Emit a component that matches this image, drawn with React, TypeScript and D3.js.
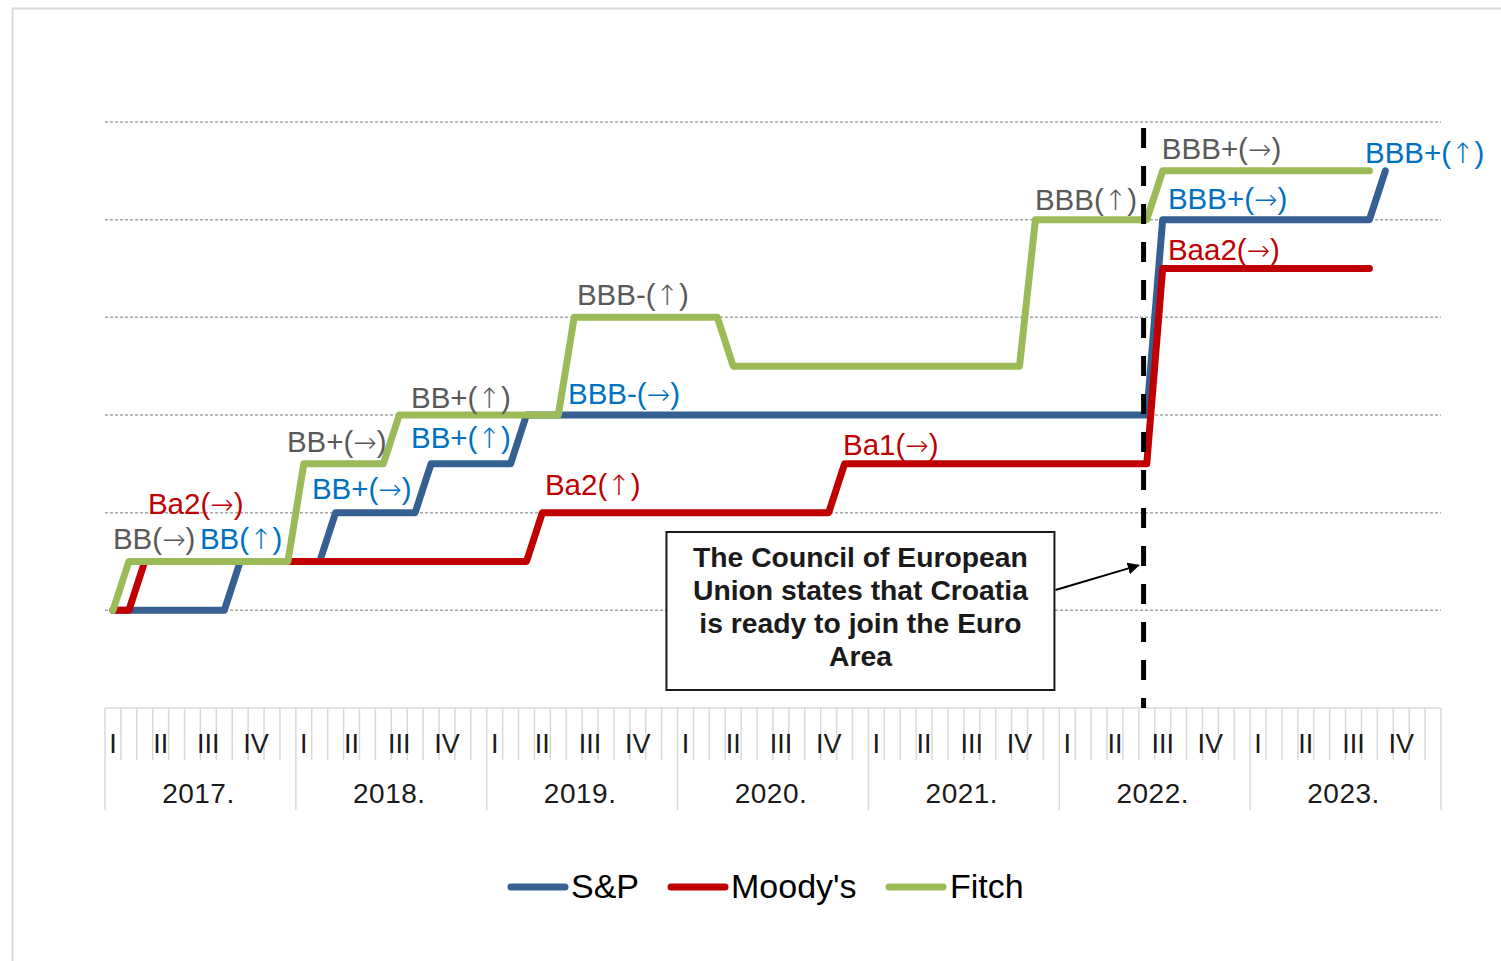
import React from "react";
import * as d3 from "d3";

// ---------- data ----------
const years = ["2017.", "2018.", "2019.", "2020.", "2021.", "2022.", "2023."];
const quarters = ["I", "II", "III", "IV"];
const monthsPerYear = 12;

// rating scale position (gridline = 1 unit, a half unit = one rating/outlook step), monthly from Jan 2017
const sp = [
  0, 0, 0, 0, 0, 0, 0, 0,
  0.5, 0.5, 0.5, 0.5, 0.5, 0.5,
  1, 1, 1, 1, 1, 1,
  1.5, 1.5, 1.5, 1.5, 1.5, 1.5,
  2, 2, 2, 2, 2, 2, 2, 2, 2, 2, 2, 2, 2, 2, 2, 2, 2, 2, 2, 2,
  2, 2, 2, 2, 2, 2, 2, 2, 2, 2, 2, 2, 2, 2, 2, 2, 2, 2, 2, 2,
  4, 4, 4, 4, 4, 4, 4, 4, 4, 4, 4, 4, 4, 4,
  4.5,
];
const moodys = [
  0, 0,
  0.5, 0.5, 0.5, 0.5, 0.5, 0.5, 0.5, 0.5, 0.5, 0.5, 0.5, 0.5, 0.5, 0.5, 0.5, 0.5, 0.5, 0.5, 0.5, 0.5, 0.5, 0.5, 0.5, 0.5, 0.5,
  1, 1, 1, 1, 1, 1, 1, 1, 1, 1, 1, 1, 1, 1, 1, 1, 1, 1, 1,
  1.5, 1.5, 1.5, 1.5, 1.5, 1.5, 1.5, 1.5, 1.5, 1.5, 1.5, 1.5, 1.5, 1.5, 1.5, 1.5, 1.5, 1.5, 1.5, 1.5,
  3.5, 3.5, 3.5, 3.5, 3.5, 3.5, 3.5, 3.5, 3.5, 3.5, 3.5, 3.5, 3.5, 3.5,
];
const fitch = [
  0,
  0.5, 0.5, 0.5, 0.5, 0.5, 0.5, 0.5, 0.5, 0.5, 0.5, 0.5,
  1.5, 1.5, 1.5, 1.5, 1.5, 1.5,
  2, 2, 2, 2, 2, 2, 2, 2, 2, 2, 2,
  3, 3, 3, 3, 3, 3, 3, 3, 3, 3,
  2.5, 2.5, 2.5, 2.5, 2.5, 2.5, 2.5, 2.5, 2.5, 2.5, 2.5, 2.5, 2.5, 2.5, 2.5, 2.5, 2.5, 2.5, 2.5,
  4, 4, 4, 4, 4, 4, 4, 4,
  4.5, 4.5, 4.5, 4.5, 4.5, 4.5, 4.5, 4.5, 4.5, 4.5, 4.5, 4.5, 4.5, 4.5,
];
const seriesNames = ["S&P", "Moody's", "Fitch"];
const gridLevels = [0, 1, 2, 3, 4, 5];

// rating labels: text, agency, anchor month, anchor level (text start / baseline)
const ratingLabels = [
  { text: "Ba2(→)", agency: "Moody's", m: 2.2, v: 0.99 },
  { text: "BB(→)", agency: "Fitch", m: 0, v: 0.63 },
  { text: "BB(↑)", agency: "S&P", m: 5.47, v: 0.63 },
  { text: "BB+(→)", agency: "Fitch", m: 10.94, v: 1.62 },
  { text: "BB+(→)", agency: "S&P", m: 12.51, v: 1.14 },
  { text: "BB+(↑)", agency: "Fitch", m: 18.74, v: 2.07 },
  { text: "BB+(↑)", agency: "S&P", m: 18.74, v: 1.66 },
  { text: "BBB-(↑)", agency: "Fitch", m: 29.17, v: 3.13 },
  { text: "BBB-(→)", agency: "S&P", m: 28.61, v: 2.11 },
  { text: "Ba2(↑)", agency: "Moody's", m: 27.16, v: 1.18 },
  { text: "Ba1(→)", agency: "Moody's", m: 45.9, v: 1.59 },
  { text: "BBB(↑)", agency: "Fitch", m: 57.97, v: 4.1 },
  { text: "BBB+(→)", agency: "Fitch", m: 65.95, v: 4.62 },
  { text: "BBB+(→)", agency: "S&P", m: 66.33, v: 4.11 },
  { text: "Baa2(→)", agency: "Moody's", m: 66.33, v: 3.59 },
  { text: "BBB+(↑)", agency: "S&P", m: 78.72, v: 4.58 },
];

const eventMonth = 64.8;
const noteLines = [
  "The Council of European",
  "Union states that Croatia",
  "is ready to join the Euro",
  "Area",
];

// ---------- styles ----------
const lineColors: Record<string, string> = {
  "S&P": "#376092",
  "Moody's": "#C00000",
  Fitch: "#9BBB59",
};
const labelColors: Record<string, string> = {
  "S&P": "#0070C0",
  "Moody's": "#C00000",
  Fitch: "#595959",
};
const FONT = "'Liberation Sans', Arial, sans-serif";
const ARROW_FONT = "'DejaVu Sans', sans-serif";

function renderLabel(text: string) {
  const parts: { s: string; arrow: boolean }[] = [];
  for (const ch of Array.from(text)) {
    const isArrow = ch === "→" || ch === "↑";
    const last = parts[parts.length - 1];
    if (last && last.arrow === isArrow) last.s += ch;
    else parts.push({ s: ch, arrow: isArrow });
  }
  return parts.map((p, i) =>
    p.arrow ? (
      <tspan key={i} fontFamily={ARROW_FONT} fontSize={28} fontWeight={300}>
        {p.s}
      </tspan>
    ) : (
      <tspan key={i}>{p.s}</tspan>
    )
  );
}

export default function App() {
  const W = 1501;
  const H = 961;
  const nMonths = years.length * monthsPerYear;
  const x = d3.scaleLinear().domain([-0.5, nMonths - 0.5]).range([105, 1441]);
  const y = d3.scaleLinear().domain([-1, 5]).range([708, 122]);
  const axisY = y(-1);

  const line = d3
    .line<number>()
    .x((_, i) => x(i))
    .y((d) => y(d));

  const seriesData = [sp, moodys, fitch];

  const monthBoundaries = d3.range(nMonths + 1);

  const boxX = x(34.8);
  const boxW = 388;
  const boxTop = 532;
  const boxH = 158;

  const legendItems = [
    { name: seriesNames[0], lx: 508, tx: 571 },
    { name: seriesNames[1], lx: 668, tx: 731 },
    { name: seriesNames[2], lx: 886, tx: 950 },
  ];

  return (
    <svg
      width={W}
      height={H}
      style={{ position: "absolute", left: 0, top: 0, background: "#fff" }}
      fontFamily={FONT}
    >
      <defs>
        <marker
          id="arr"
          viewBox="0 0 10 10"
          refX="9"
          refY="5"
          markerWidth="6"
          markerHeight="6"
          markerUnits="strokeWidth"
          orient="auto"
        >
          <path d="M0,0 L10,5 L0,10 z" fill="#000" />
        </marker>
      </defs>
      <rect x={12.5} y={8.5} width={1600} height={1100} fill="#fff" stroke="#d9d9d9" strokeWidth={2} />

      {/* gridlines */}
      {gridLevels.map((g) => (
        <line
          key={g}
          x1={x(-0.5)}
          x2={x(nMonths - 0.5)}
          y1={y(g)}
          y2={y(g)}
          stroke="#a6a6a6"
          strokeWidth={1.5}
          strokeDasharray="3 2"
        />
      ))}

      {/* x axis */}
      <line x1={x(-0.5)} x2={x(nMonths - 0.5)} y1={axisY} y2={axisY} stroke="#d9d9d9" strokeWidth={1.5} />
      {monthBoundaries.map((k) => {
        const isYear = k % monthsPerYear === 0;
        return (
          <line
            key={k}
            x1={x(k - 0.5)}
            x2={x(k - 0.5)}
            y1={axisY}
            y2={isYear ? 810 : 760}
            stroke="#d9d9d9"
            strokeWidth={1.5}
          />
        );
      })}
      {years.map((yr, yi) =>
        quarters.map((q, qi) => (
          <text
            key={yr + q}
            x={x(yi * monthsPerYear + qi * 3)}
            y={753}
            fontSize={27}
            textAnchor="middle"
            fill="#1a1a1a"
          >
            {q}
          </text>
        ))
      )}
      {years.map((yr, yi) => (
        <text
          key={yr}
          x={x(yi * monthsPerYear + (monthsPerYear - 1) / 2) - 2}
          y={803}
          fontSize={28}
          textAnchor="middle"
          fill="#1a1a1a"
          letterSpacing={0.5}
        >
          {yr}
        </text>
      ))}

      {/* series */}
      {seriesData.map((s, si) => (
        <path
          key={seriesNames[si]}
          d={line(s) || ""}
          fill="none"
          stroke={lineColors[seriesNames[si]]}
          strokeWidth={7}
          strokeLinejoin="round"
          strokeLinecap="round"
        />
      ))}

      {/* event line */}
      <line
        x1={x(eventMonth)}
        x2={x(eventMonth)}
        y1={128}
        y2={axisY}
        stroke="#000"
        strokeWidth={5}
        strokeDasharray="20 18"
      />

      {/* rating labels */}
      {ratingLabels.map((l, i) => (
        <text key={i} x={x(l.m)} y={y(l.v)} fontSize={29.5} fill={labelColors[l.agency]}>
          {renderLabel(l.text)}
        </text>
      ))}

      {/* note box */}
      <rect x={boxX} y={boxTop} width={boxW} height={boxH} fill="#fff" stroke="#1a1a1a" strokeWidth={2} />
      {noteLines.map((t, i) => (
        <text
          key={i}
          x={boxX + boxW / 2}
          y={567 + i * 33}
          fontSize={28.3}
          fontWeight="bold"
          textAnchor="middle"
          fill="#1a1a1a"
        >
          {t}
        </text>
      ))}
      <line
        x1={boxX + boxW + 1}
        y1={590}
        x2={x(eventMonth) - 5}
        y2={y(0.46)}
        stroke="#000"
        strokeWidth={2}
        markerEnd="url(#arr)"
      />

      {/* legend */}
      {legendItems.map((it) => (
        <g key={it.name}>
          <line
            x1={it.lx + 3}
            x2={it.lx + 57}
            y1={887}
            y2={887}
            stroke={lineColors[it.name]}
            strokeWidth={7}
            strokeLinecap="round"
          />
          <text x={it.tx} y={898} fontSize={34} fill="#000">
            {it.name}
          </text>
        </g>
      ))}
    </svg>
  );
}
